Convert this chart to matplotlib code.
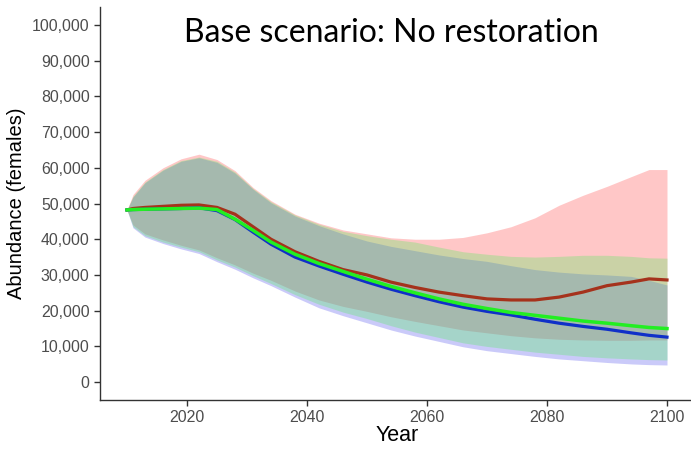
import matplotlib.pyplot as plt
from matplotlib.ticker import FuncFormatter

years = [2010, 2011, 2013, 2016, 2019, 2022, 2025, 2028, 2031, 2034, 2038, 2042, 2046,
         2050, 2054, 2058, 2062, 2066, 2070, 2074, 2078, 2082, 2086, 2090, 2094, 2097, 2100]

# central trajectories
brown = [48200, 48600, 48900, 49200, 49500, 49600, 48900, 47000, 43500, 40000, 36500, 33800, 31500,
         30000, 28000, 26500, 25200, 24200, 23300, 23000, 23000, 23800, 25200, 27000, 28000, 28900, 28600]
blue = [48200, 48300, 48400, 48500, 48600, 48800, 48000, 45500, 42000, 38600, 35000, 32500, 30200,
        28000, 26000, 24200, 22500, 21000, 19800, 18800, 17600, 16500, 15600, 14800, 13800, 13100, 12600]
green = [48200, 48300, 48400, 48500, 48600, 48700, 48300, 45600, 42500, 39200, 35800, 33200, 31000,
         28800, 26800, 25000, 23300, 21800, 20600, 19500, 18700, 17900, 17100, 16500, 15800, 15300, 15000]

# ribbons (upper / lower bounds) for each trajectory
red_hi = [48200, 52500, 56500, 60000, 62500, 63800, 62300, 59200, 54500, 50800, 47000, 44500, 42600,
          41500, 40400, 40000, 40000, 40500, 41800, 43500, 46000, 49500, 52300, 54800, 57500, 59500, 59500]
red_lo = [48200, 44000, 41500, 39800, 38300, 37000, 34800, 32800, 30500, 28500, 25500, 23000, 21200,
          19800, 18300, 17000, 15800, 14600, 13800, 13000, 12400, 12000, 11800, 11700, 11700, 11800, 11800]
green_hi = [48200, 52000, 56000, 59500, 62000, 63000, 61800, 58800, 54200, 50500, 46800, 44200, 42200,
            41000, 40000, 39200, 37800, 36500, 35800, 35200, 35000, 35200, 35500, 35500, 35200, 34800, 34700]
green_lo = [48200, 43500, 41000, 39200, 37800, 36500, 34200, 32200, 29800, 27600, 24500, 21800, 19600,
            17800, 15800, 14000, 12500, 11000, 10000, 9200, 8400, 7800, 7200, 6800, 6500, 6300, 6200]
blue_hi = [48200, 51800, 55800, 59300, 61800, 62800, 61500, 58500, 54000, 50200, 46500, 43800, 41500,
           39500, 38000, 36800, 35600, 34600, 33800, 32600, 31500, 30800, 30300, 30000, 29600, 28500, 27200]
blue_lo = [48200, 43200, 40600, 38800, 37300, 36000, 33700, 31600, 29200, 27000, 23800, 20800, 18600,
           16600, 14600, 12900, 11400, 9900, 8800, 8000, 7200, 6500, 6000, 5500, 5100, 4900, 4800]

fig = plt.figure(figsize=(6.91, 4.51), dpi=100)
ax = fig.add_axes([100 / 691, 51 / 451, 594 / 691, 393 / 451])

a = 0.3
ax.fill_between(years, red_lo, red_hi, color='#FF4848', alpha=a, lw=0)
ax.fill_between(years, blue_lo, blue_hi, color='#5050EE', alpha=a, lw=0)
ax.fill_between(years, green_lo, green_hi, color='#50EE5C', alpha=a, lw=0)

ax.plot(years, brown, color='#A5321C', lw=2.3)
ax.plot(years, blue, color='#1030C8', lw=2.3)
ax.plot(years, green, color='#22EE22', lw=2.5)

ax.set_xlim(2005.5, 2104.5)
ax.set_ylim(-5000, 105000)
ax.set_xticks([2020, 2040, 2060, 2080, 2100])
ax.set_yticks(range(0, 100001, 10000))
ax.yaxis.set_major_formatter(FuncFormatter(lambda v, p: f'{int(v):,}'))

for s in ['top', 'right']:
    ax.spines[s].set_visible(False)
for s in ['left', 'bottom']:
    ax.spines[s].set_color('#333333')
    ax.spines[s].set_linewidth(1.0)
ax.tick_params(direction='out', length=4, width=1, color='#333333',
               labelcolor='#4D4D4D', labelsize=11.4)
for lab in ax.get_xticklabels() + ax.get_yticklabels():
    lab.set_fontfamily('Liberation Sans')

ax.set_xlabel('Year', fontsize=15.5, family='Liberation Sans', labelpad=0)
ax.set_ylabel('Abundance (females)', fontsize=14.5, family='Liberation Sans', labelpad=4)

fig.text(391 / 691, 1 - 33 / 451, 'Base scenario: No restoration', fontsize=23,
         family='Lato', ha='center', va='center')

fig.savefig('out.png', dpi=100)
